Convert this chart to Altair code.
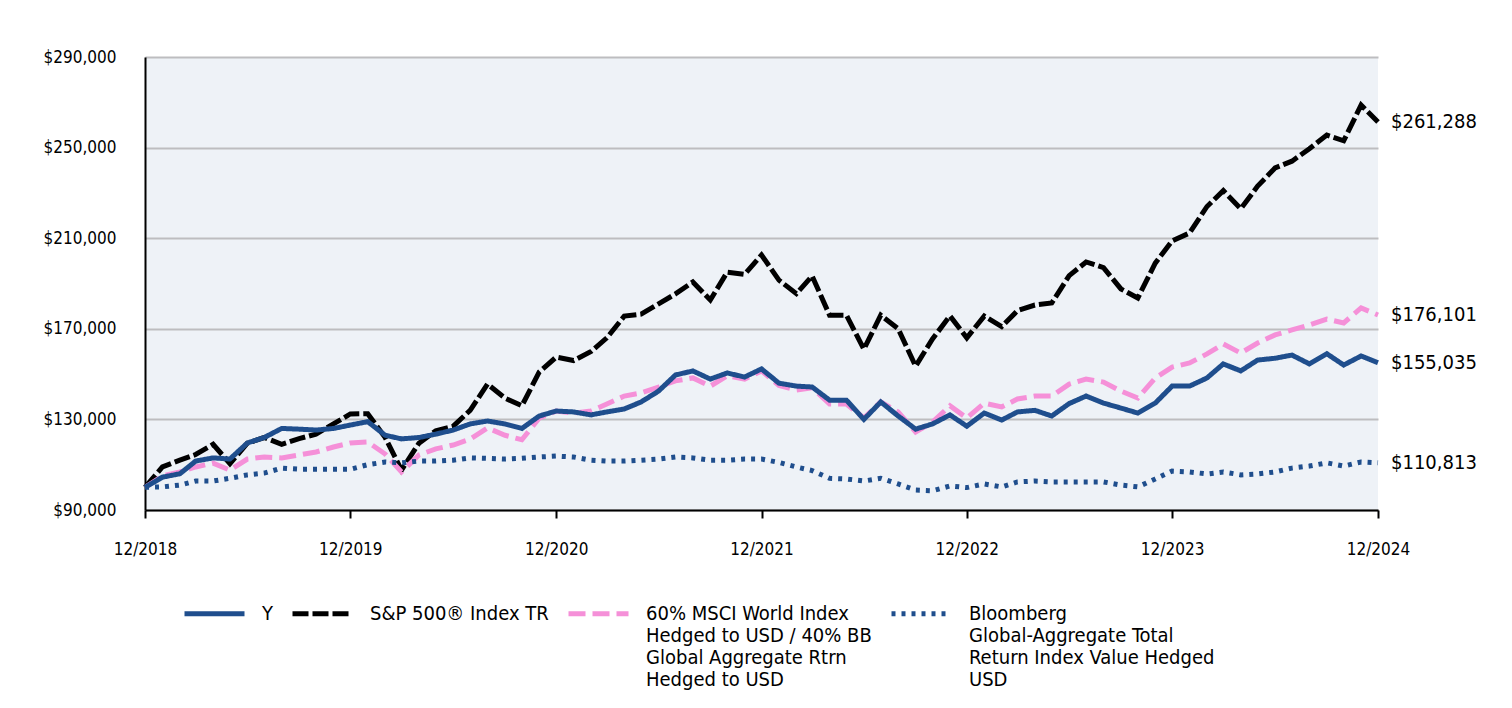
import altair as alt
import pandas as pd

# ---- data (in US$) ----
months = pd.date_range("2018-12-01", "2024-12-01", freq="MS").strftime("%Y-%m-%dT00:00:00").tolist()

series_names = [
    "S&P 500® Index TR",
    "60% MSCI World Index Hedged to USD / 40% BB Global Aggregate Rtrn Hedged to USD",
    "Y",
    "Bloomberg Global-Aggregate Total Return Index Value Hedged USD",
]
legend_order = [series_names[2], series_names[0], series_names[1], series_names[3]]
legend_lines = {
    series_names[0]: ["S&P 500® Index TR"],
    series_names[1]: ["60% MSCI World Index", "Hedged to USD / 40% BB", "Global Aggregate Rtrn", "Hedged to USD"],
    series_names[2]: ["Y"],
    series_names[3]: ["Bloomberg", "Global-Aggregate Total", "Return Index Value Hedged", "USD"],
}
series_colors = {
    series_names[0]: "#000000",
    series_names[1]: "#F590D8",
    series_names[2]: "#1F4E8D",
    series_names[3]: "#1F4E8D",
}
series_dashes = {
    series_names[0]: [16, 4],
    series_names[1]: [17, 7],
    series_names[2]: [1, 0],
    series_names[3]: [4, 6],
}

sp500 = [100000, 109000, 112000, 114500, 119000, 110500, 119500, 122000, 119000, 121500, 123500, 128000,
         132400, 132500, 122000, 107600, 119500, 125000, 127000, 134000, 145600, 139400, 136000, 151000,
         157500, 156000, 160000, 166000, 175600, 176500, 181000, 185400, 190700, 182700, 195000, 194000,
         202600, 191500, 185500, 193300, 176000, 176000, 161000, 176000, 170000, 153500, 165500, 175700,
         166000, 175600, 171000, 178000, 180500, 181400, 193500, 199500, 197000, 187600, 183600, 199000,
         208800, 212300, 224000, 231000, 223000, 233000, 241000, 244000, 249500, 255500, 253000, 268800,
         261288]
mix6040 = [100000, 105000, 106800, 109000, 110700, 107600, 112500, 113400, 113000, 114300, 115600, 117800,
           119600, 120000, 114700, 106800, 114300, 117000, 118700, 121300, 126200, 123000, 121000, 130600,
           133700, 132800, 133700, 136800, 140300, 141700, 144300, 147000, 148300, 144700, 149200, 147800,
           151400, 145000, 143000, 144000, 136800, 136800, 130600, 137700, 133300, 124400, 128800, 136000,
           130600, 137200, 135500, 139000, 140300, 140300, 145600, 147800, 146500, 142500, 139400, 148300,
           153100, 154900, 158900, 163300, 159300, 163700, 167300, 169500, 171700, 174300, 172600, 179200,
           176101]
fund_y = [100000, 104500, 106000, 111600, 113000, 112500, 119600, 122000, 126000, 125700, 125300, 126000,
          127500, 129000, 123000, 121400, 122000, 123500, 125300, 128000, 129300, 128000, 126000, 131500,
          133700, 133300, 132000, 133300, 134600, 137700, 142500, 149600, 151400, 147800, 150500, 148700,
          152300, 146000, 144700, 144300, 138500, 138500, 130000, 137700, 131500, 125700, 128000, 132000,
          127000, 132800, 129700, 133300, 134000, 131500, 137000, 140300, 137200, 135000, 132800, 137200,
          144700, 144700, 148300, 154500, 151400, 156200, 157000, 158400, 154500, 159000, 154000, 158000,
          155035]
bbg_agg = [100000, 100200, 101000, 102800, 102800, 104000, 105500, 106300, 108500, 108000, 108000, 108000,
           108000, 110000, 111200, 110800, 111600, 111600, 112000, 113000, 112800, 112500, 112800, 113400,
           113800, 113400, 112000, 111600, 111600, 112000, 112500, 113400, 113000, 112000, 112000, 112500,
           112500, 111000, 109000, 107400, 104000, 103700, 102800, 104000, 101500, 98800, 98500, 100600,
           99900, 101500, 100200, 102400, 102800, 102400, 102400, 102400, 102400, 101000, 100200, 103700,
           107200, 106800, 105900, 106800, 105500, 105900, 106800, 108500, 109400, 110800, 109400, 111200,
           110813]

series_values = {
    series_names[0]: sp500,
    series_names[1]: mix6040,
    series_names[2]: fund_y,
    series_names[3]: bbg_agg,
}

y_ticks = [90000, 130000, 170000, 210000, 250000, 290000]
x_tick_years = [2018, 2019, 2020, 2021, 2022, 2023, 2024]

rows = []
for s in series_names:
    for m, v in zip(months, series_values[s]):
        rows.append({"month": m, "series": s, "value": v})
df = pd.DataFrame(rows)
df_last = df[df["month"] == months[-1]]

FONT = "DejaVu Sans Condensed"

# every legend label is padded to 4 lines so that all entries share one height
label_expr = ""
for s in series_names:
    padded = legend_lines[s] + [" "] * (4 - len(legend_lines[s]))
    arr = "[" + ", ".join("'" + t + "'" for t in padded) + "]"
    label_expr += f"datum.label == '{s}' ? {arr} : "
label_expr += "datum.label"

x_enc = alt.X(
    "month:T",
    scale=alt.Scale(domain=[months[0], months[-1]], nice=False),
    axis=alt.Axis(
        values=[alt.DateTime(year=yr, month=12, date=1) for yr in x_tick_years],
        format="%m/%Y",
        title=None,
        grid=False,
        domainColor="#000000",
        domainWidth=2,
        tickColor="#000000",
        tickWidth=2,
        tickSize=8,
        labelPadding=23,
        labelFontSize=17,
        labelFont=FONT,
        labelColor="#000000",
        labelBaseline="top",
        labelFlush=False,
        labelOverlap=False,
    ),
)
y_enc = alt.Y(
    "value:Q",
    scale=alt.Scale(domain=[y_ticks[0], y_ticks[-1]], nice=False, zero=False),
    axis=alt.Axis(
        values=y_ticks,
        format="$,.0f",
        title=None,
        grid=True,
        gridColor="#BDBDC0",
        gridWidth=2,
        domainColor="#000000",
        domainWidth=2,
        ticks=False,
        labelPadding=29,
        labelFontSize=17,
        labelFont=FONT,
        labelColor="#000000",
    ),
)

legend = alt.Legend(
    title=None,
    orient="none",
    legendX=37,
    legendY=524,
    direction="horizontal",
    columns=4,
    symbolType="stroke",
    symbolSize=3600,
    symbolStrokeWidth=5,
    labelFont=FONT,
    labelFontSize=20,
    labelColor="#000000",
    labelLimit=400,
    labelOffset=15,
    columnPadding=9,
    labelExpr=label_expr,
    labelBaseline="middle",
)

lines = alt.Chart(df).mark_line(strokeWidth=5, strokeCap="butt", strokeJoin="miter").encode(
    x=x_enc,
    y=y_enc,
    color=alt.Color(
        "series:N",
        scale=alt.Scale(domain=legend_order, range=[series_colors[s] for s in legend_order]),
        legend=legend,
    ),
    strokeDash=alt.StrokeDash(
        "series:N",
        scale=alt.Scale(domain=legend_order, range=[series_dashes[s] for s in legend_order]),
        legend=legend,
    ),
)

end_labels = alt.Chart(df_last).mark_text(
    align="left", baseline="middle", dx=13, fontSize=20, font=FONT, color="#000000"
).encode(
    x=alt.X("month:T"),
    y=alt.Y("value:Q"),
    text=alt.Text("value:Q", format="$,.0f"),
)

chart = alt.layer(lines, end_labels).properties(
    width=1233,
    height=453,
    background="#FFFFFF",
    autosize=alt.AutoSizeParams(type="none"),
    padding={"left": 137, "top": 49, "right": 126, "bottom": 190},
).configure_view(
    fill="#EEF2F7",
    stroke=None,
)

chart.save("out.html", embed_options={"renderer": "svg", "actions": False})
